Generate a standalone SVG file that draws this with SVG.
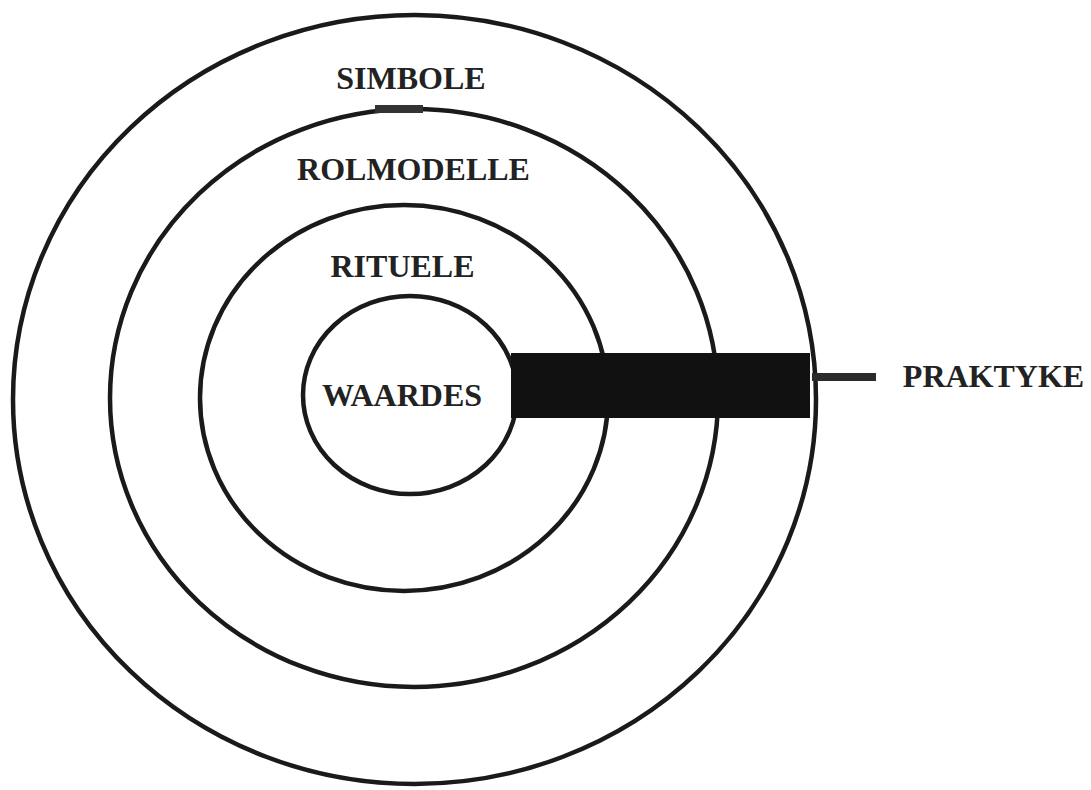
<svg xmlns="http://www.w3.org/2000/svg" width="1091" height="790" viewBox="0 0 1091 790">
<style>
.ring{fill:none;stroke:#1a1a1a;stroke-width:4.5}
.lbl{font-family:"Liberation Serif","Times New Roman",serif;font-weight:bold;font-size:32px;fill:#222;text-anchor:middle}
</style>
<rect width="1091" height="790" fill="#ffffff"/>
<g id="ring-simbole"><ellipse class="ring" cx="414.5" cy="399.5" rx="401.5" ry="384.5"/></g>
<g id="ring-rolmodelle"><ellipse class="ring" cx="414" cy="398" rx="304" ry="289"/></g>
<g id="ring-rituele"><ellipse class="ring" cx="404" cy="398" rx="204" ry="193"/></g>
<g id="ring-waardes"><ellipse class="ring" cx="410" cy="395" rx="107" ry="99"/></g>
<g id="praktyke-bar"><rect x="511" y="353" width="299" height="65" fill="#111"/></g>
<g id="connectors">
<rect x="812" y="373" width="64" height="8" fill="#2b2b2b"/>
<rect x="375" y="105" width="48" height="8" fill="#333"/>
</g>
<g id="labels">
<text class="lbl" x="411" y="89">SIMBOLE</text>
<text class="lbl" x="413.5" y="180">ROLMODELLE</text>
<text class="lbl" x="402.5" y="277">RITUELE</text>
<text class="lbl" x="402" y="406">WAARDES</text>
<text class="lbl" x="993.5" y="387">PRAKTYKE</text>
</g>
</svg>
